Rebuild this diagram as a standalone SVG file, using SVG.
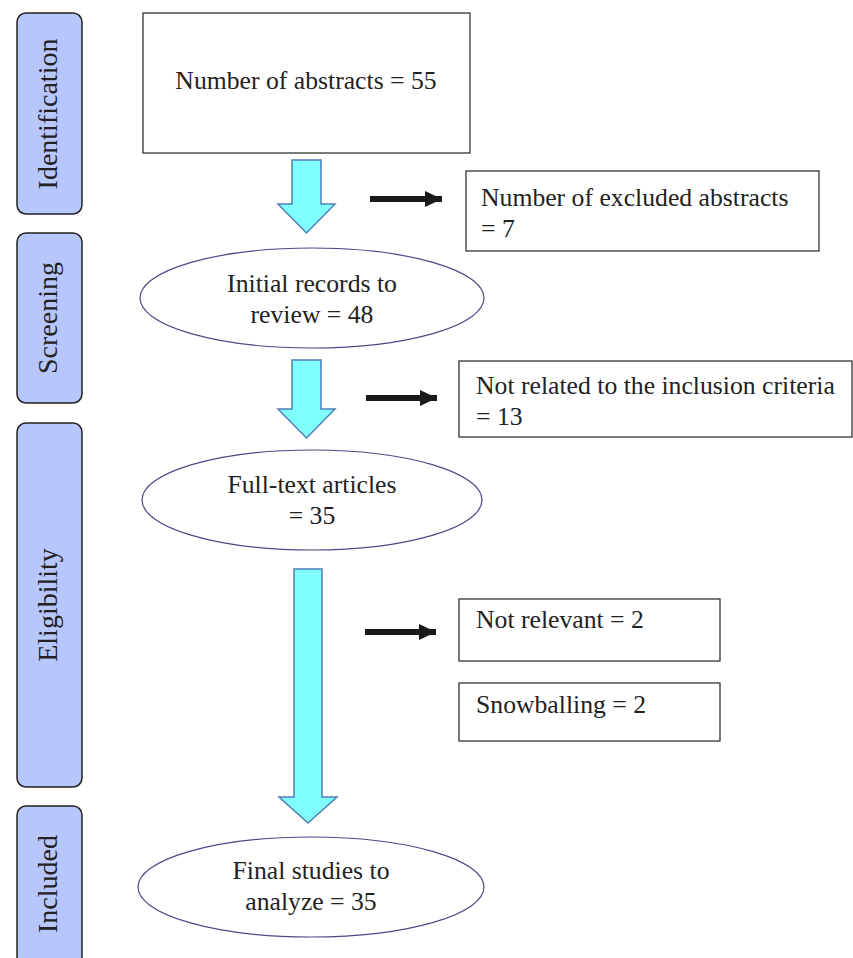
<svg xmlns="http://www.w3.org/2000/svg" width="853" height="958" viewBox="0 0 853 958">
<defs>
<marker id="ah" markerUnits="userSpaceOnUse" markerWidth="18" markerHeight="16" refX="17" refY="8" orient="auto">
<path d="M0,0 L17,8 L0,16 Z" fill="#1a1a1a"/>
</marker>
</defs>
<style>
.side{fill:#b7c6fb;stroke:#222;stroke-width:1.5}
.sidet{font-size:28px;fill:#222;text-anchor:middle}
.box{fill:#fff;stroke:#333;stroke-width:1.3}
.ell{fill:#fff;stroke:#4a4a86;stroke-width:1.2}
.t{font-size:25.7px;fill:#222}
.c{text-anchor:middle}
.blk{fill:#80ffff;stroke:#4f7fb8;stroke-width:1.5}
.arr{stroke:#1a1a1a;stroke-width:6;fill:none}
</style>
<rect width="853" height="958" fill="#fff"/>
<g font-family="'Liberation Serif', 'Times New Roman', Tinos, 'DejaVu Serif', serif">
<g id="stage-identification">
<rect class="side" x="17" y="13" width="65" height="201" rx="9"/>
<text class="sidet" transform="translate(57,114) rotate(-90)">Identification</text>
</g>
<g id="stage-screening">
<rect class="side" x="17" y="233" width="65" height="170" rx="9"/>
<text class="sidet" transform="translate(57,318) rotate(-90)">Screening</text>
</g>
<g id="stage-eligibility">
<rect class="side" x="17" y="423" width="65" height="364" rx="9"/>
<text class="sidet" transform="translate(57,605) rotate(-90)">Eligibility</text>
</g>
<g id="stage-included">
<rect class="side" x="17" y="806" width="65" height="160" rx="9"/>
<text class="sidet" transform="translate(57,884) rotate(-90)">Included</text>
</g>
<g id="abstracts">
<rect class="box" x="143" y="13" width="327" height="140"/>
<text class="t c" x="306" y="89">Number of abstracts = 55</text>
</g>
<g id="excluded-abstracts">
<rect class="box" x="466" y="171" width="353" height="80"/>
<text class="t" x="481" y="206">Number of excluded abstracts</text>
<text class="t" x="481" y="237">= 7</text>
</g>
<g id="initial-records">
<ellipse class="ell" cx="312" cy="298" rx="172" ry="50"/>
<text class="t c" x="312" y="292">Initial records to</text>
<text class="t c" x="312" y="323">review = 48</text>
</g>
<g id="not-related">
<rect class="box" x="459" y="361" width="393" height="76"/>
<text class="t" x="476" y="394">Not related to the inclusion criteria</text>
<text class="t" x="476" y="425">= 13</text>
</g>
<g id="full-text">
<ellipse class="ell" cx="312" cy="500" rx="170" ry="50"/>
<text class="t c" x="312" y="493">Full-text articles</text>
<text class="t c" x="312" y="524">= 35</text>
</g>
<g id="not-relevant">
<rect class="box" x="459" y="599" width="261" height="62"/>
<text class="t" x="476" y="628">Not relevant = 2</text>
</g>
<g id="snowballing">
<rect class="box" x="459" y="683" width="261" height="58"/>
<text class="t" x="476" y="713">Snowballing = 2</text>
</g>
<g id="final-studies">
<ellipse class="ell" cx="311" cy="887" rx="173" ry="50"/>
<text class="t c" x="311" y="879">Final studies to</text>
<text class="t c" x="311" y="910">analyze = 35</text>
</g>
</g>
<g id="connectors">
<path class="blk" d="M292,160 L321,160 L321,204 L335,204 L306.5,233 L278,204 L292,204 Z"/>
<path class="blk" d="M292,360 L321,360 L321,409 L335,409 L306.5,438 L278,409 L292,409 Z"/>
<path class="blk" d="M294,569 L322,569 L322,797 L337,797 L308,823 L279,797 L294,797 Z"/>
<line class="arr" x1="370" y1="199" x2="442" y2="199" marker-end="url(#ah)"/>
<line class="arr" x1="366" y1="398" x2="437" y2="398" marker-end="url(#ah)"/>
<line class="arr" x1="365" y1="632" x2="436" y2="632" marker-end="url(#ah)"/>
</g>
</svg>
